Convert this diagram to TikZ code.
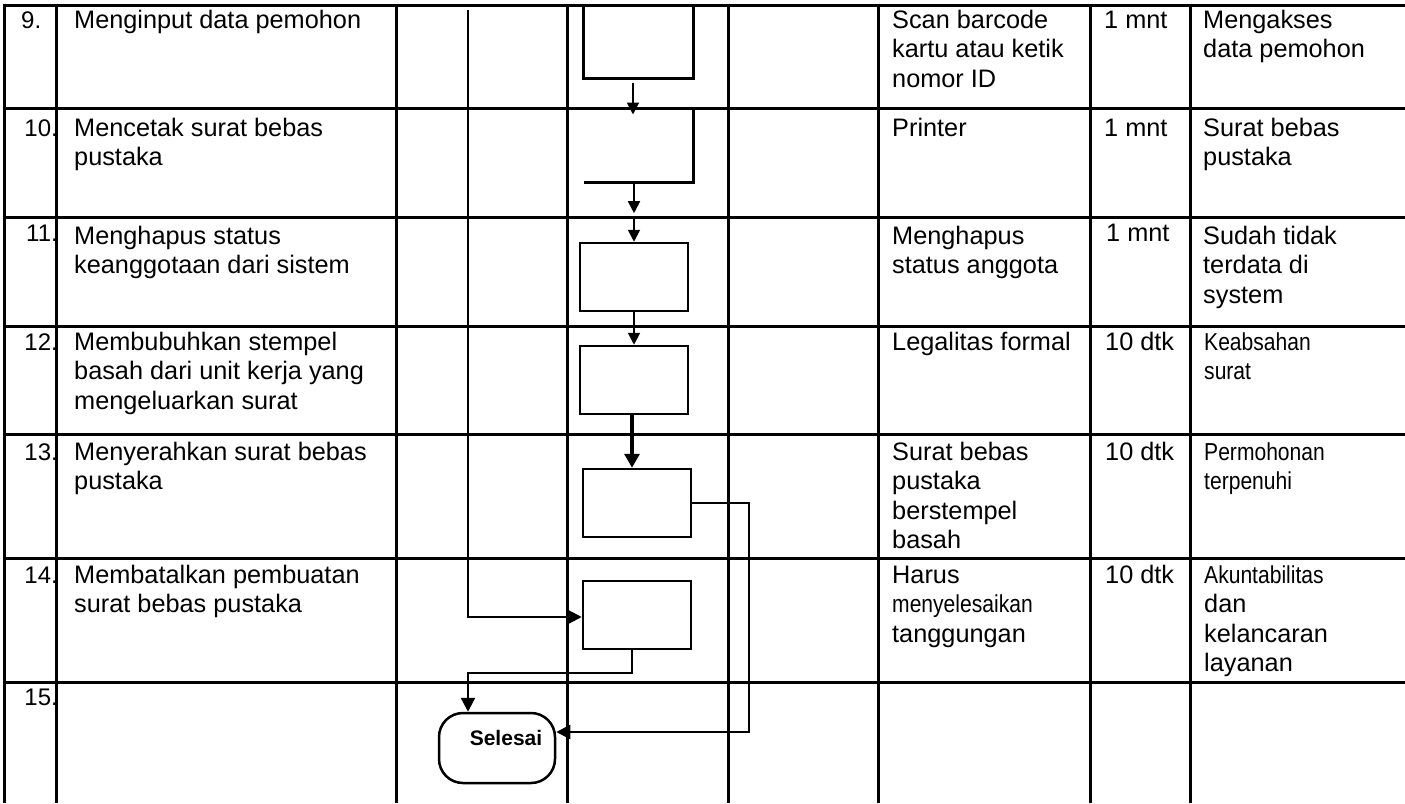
\documentclass[tikz,border=0pt]{standalone}
\usepackage{fontspec}
\setmainfont{Liberation Sans}
\newfontfamily\narrowfont[FakeStretch=0.86]{Liberation Sans}
\usetikzlibrary{arrows.meta}

% multi-line cell text whose baseline is that of its first line
\newcommand{\celltxt}[1]{\begin{tabular}[t]{@{}l@{}}#1\end{tabular}}
% condensed face used in a few cells
\newcommand{\nrw}{\narrowfont\fontsize{24.5}{29.5}\selectfont}

\begin{document}
\begin{tikzpicture}[
  x=1pt, y=-1pt,
  gridline/.style={line width=3pt},
  txt/.style={anchor=base west, inner sep=0pt, font=\fontsize{25.3}{29.5}\selectfont},
  num/.style={anchor=base east, inner sep=0pt, font=\fontsize{24}{29.5}\selectfont},
  flowbox/.style={draw, line width=2.5pt, minimum width=108pt, minimum height=68pt, inner sep=0pt},
  boxline/.style={line width=3pt},
  smallarr/.style={line width=1.8pt, -{Triangle[width=12pt,length=12pt]}},
  conn/.style={line width=2.3pt},
  bigarr/.style={line width=2.3pt, -{Triangle[width=14pt,length=14pt]}},
  heavyarr/.style={line width=3.2pt, -{Triangle[width=15pt,length=14pt]}},
  terminal/.style={draw, line width=2.5pt, rounded corners=24pt, minimum width=116pt, minimum height=70pt, inner sep=0pt}
]
\useasboundingbox (0,0) rectangle (1405,803);

% ---- table grid ----
\foreach \yy in {5,108,217,326,434,558,682}
  \draw[gridline] (2.5,\yy) -- (1405,\yy);
\foreach \xx in {4,56,396,567,728,878,1090,1190}
  \draw[gridline] (\xx,3.5) -- (\xx,803);

% ---- row numbers ----
\node[anchor=base west, inner sep=0pt, font=\fontsize{24}{29.5}\selectfont] (n9) at (21,28) {9.};
\node[num] (n10) at (58,136) {10.};
\node[num] (n11) at (58,241) {11.};
\node[num] (n12) at (58,350) {12.};
\node[num] (n13) at (58,460) {13.};
\node[num] (n14) at (58,583) {14.};
\node[num] (n15) at (58,705) {15.};

% ---- activity descriptions ----
\node[txt] (a9)  at (74,28)  {\celltxt{Menginput data pemohon}};
\node[txt] (a10) at (74,136) {\celltxt{Mencetak surat bebas\\pustaka}};
\node[txt] (a11) at (74,244) {\celltxt{Menghapus status\\keanggotaan dari sistem}};
\node[txt] (a12) at (74,350) {\celltxt{Membubuhkan stempel\\basah dari unit kerja yang\\mengeluarkan surat}};
\node[txt] (a13) at (74,460) {\celltxt{Menyerahkan surat bebas\\pustaka}};
\node[txt] (a14) at (74,583) {\celltxt{Membatalkan pembuatan\\surat bebas pustaka}};

% ---- requirements ----
\node[txt] (r9)  at (892,28)  {\celltxt{Scan barcode\\kartu atau ketik\\nomor ID}};
\node[txt] (r10) at (892,136) {\celltxt{Printer}};
\node[txt] (r11) at (892,244) {\celltxt{Menghapus\\status anggota}};
\node[txt] (r12) at (892,350) {\celltxt{Legalitas formal}};
\node[txt] (r13) at (892,460) {\celltxt{Surat bebas\\pustaka\\berstempel\\basah}};
\node[txt] (r14) at (892,583) {\celltxt{Harus\\{\nrw menyelesaikan}\\tanggungan}};

% ---- time ----
\node[txt] (t9)  at (1104,28)  {1 mnt};
\node[txt] (t10) at (1104,136) {1 mnt};
\node[txt] (t11) at (1106,241) {1 mnt};
\node[txt] (t12) at (1105,350) {10 dtk};
\node[txt] (t13) at (1105,460) {10 dtk};
\node[txt] (t14) at (1105,583) {10 dtk};

% ---- output ----
\node[txt] (o9)  at (1203,28)  {\celltxt{Mengakses\\data pemohon}};
\node[txt] (o10) at (1203,136) {\celltxt{Surat bebas\\pustaka}};
\node[txt] (o11) at (1203,244) {\celltxt{Sudah tidak\\terdata di\\system}};
\node[txt] (o12) at (1204,350) {\celltxt{{\nrw Keabsahan}\\{\nrw surat}}};
\node[txt] (o13) at (1204,460) {\celltxt{{\nrw Permohonan}\\{\nrw terpenuhi}}};
\node[txt] (o14) at (1204,583) {\celltxt{{\nrw Akuntabilitas}\\dan\\kelancaran\\layanan}};

% ---- flow symbols ----
\node[flowbox, line width=3pt, minimum width=110pt, minimum height=73pt] (b9) at (638,41.5) {};
\node[inner sep=0pt, minimum width=109pt, minimum height=74pt] (b10) at (638.5,145) {};
\draw[boxline] (b10.north east) -- (b10.south east) -- (b10.south west);
\node[flowbox] (b11) at (634,277) {};
\node[flowbox] (b12) at (634,380) {};
\node[flowbox] (b13) at (637,503) {};
\node[flowbox] (b14) at (637,615) {};
\node[terminal] (sel) at (497,748) {};
\node[inner sep=0pt, anchor=base, font=\bfseries\fontsize{21}{25}\selectfont] (selText) at (506,745) {Selesai};
\coordinate (laneTop) at (468,10);

% ---- connectors ----
\draw[smallarr] ([xshift=-5pt]b9.south) ++(0,3) -- ++(0,32);
\draw[smallarr] (b10.south -| b11.north) -- ++(0,31);
\draw[smallarr] (b10.south -| b11.north) ++(0,36) -- (b11.north);
\draw[smallarr] (b11.south) -- (b12.north);
\draw[heavyarr] ([xshift=-2pt]b12.south) -- ([xshift=-5pt]b13.north);
\draw[bigarr] (laneTop) |- ([yshift=-2pt]b14.west);
\draw[bigarr] (b13.east) -- ++(57,0) |- ([yshift=16pt]sel.east);
\draw[bigarr] ([xshift=-5pt]b14.south) -- ++(0,23) -| (sel.north -| laneTop);

\end{tikzpicture}
\end{document}
